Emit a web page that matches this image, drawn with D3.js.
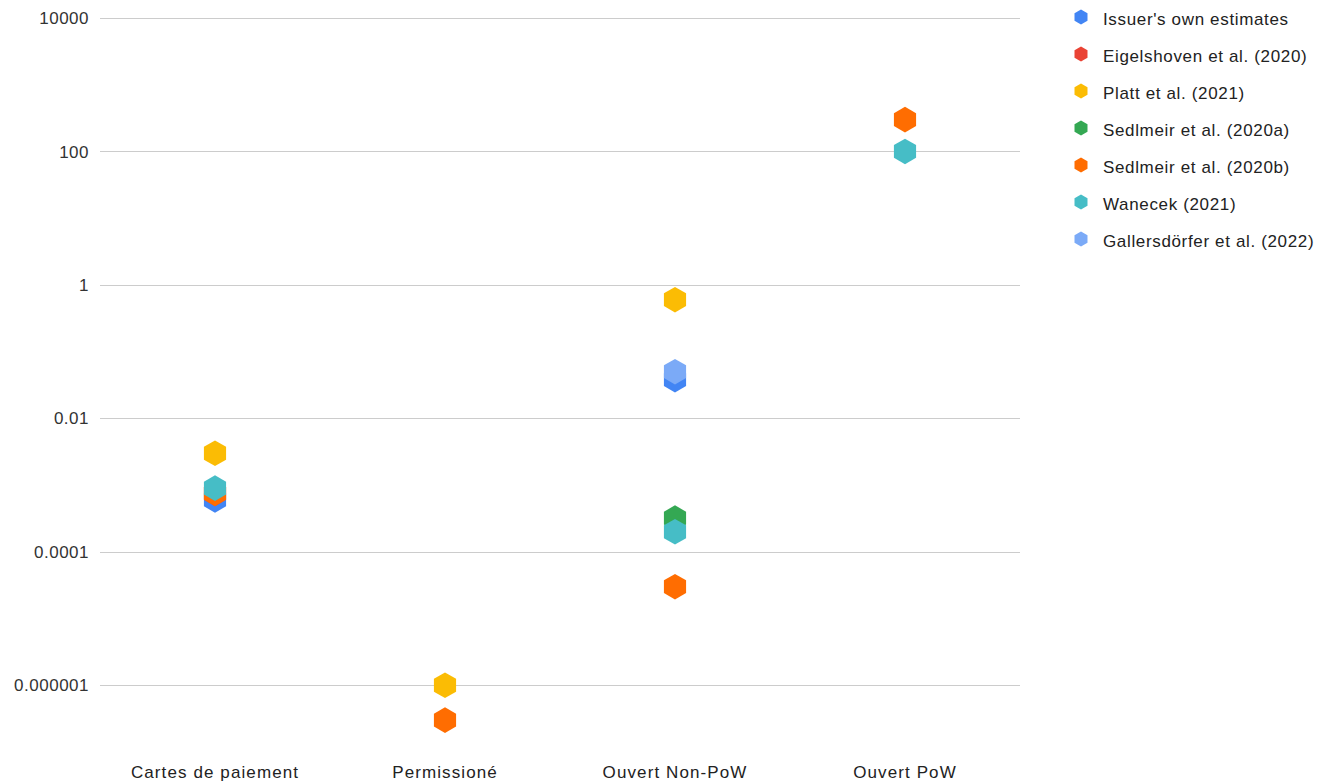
<!DOCTYPE html>
<html><head><meta charset="utf-8">
<script src="https://cdn.jsdelivr.net/npm/d3@7"></script>
<style>body{margin:0;background:#fff;font-family:"Liberation Sans",Arial,sans-serif}</style>
</head><body><svg id="c" width="1324" height="781"></svg>
<script>
const categories = ["Cartes de paiement","Permissioné","Ouvert Non-PoW","Ouvert PoW"];
const seriesNames = ["Issuer's own estimates","Eigelshoven et al. (2020)","Platt et al. (2021)","Sedlmeir et al. (2020a)","Sedlmeir et al. (2020b)","Wanecek (2021)","Gallersdörfer et al. (2022)"];
const seriesColors = ["#4285F4","#EA4335","#FBBC04","#34A853","#FF6D01","#46BDC6","#7BAAF7"];
// values per series, aligned with categories (null = no point)
const issuer      = [0.0006, null, 0.038, null];
const eigelshoven = [0.00075, null, null, null];
const platt       = [0.003, 0.000001, 0.6, null];
const sedlmeirA   = [null, null, 0.00032, null];
const sedlmeirB   = [0.00075, 0.0000003, 0.00003, 300];
const wanecek     = [0.0009, null, 0.0002, 100];
const gallers     = [null, null, 0.05, null];
const tickValues = [0.000001, 0.0001, 0.01, 1, 100, 10000];
const tickLabels = ["0.000001","0.0001","0.01","1","100","10000"];
const seriesValues = [issuer, eigelshoven, platt, sedlmeirA, sedlmeirB, wanecek, gallers];

const FONT = '"Liberation Sans",Arial,sans-serif';
const svg = d3.select("#c");
const L = 100, R = 1020, T = 18, B = 752;
const x = d3.scaleBand().domain(categories).range([L, R]);
const y = d3.scaleLog().domain([1e-7, 1e4]).range([B, T]);

// gridlines
svg.append("g").selectAll("line").data(tickValues).join("line")
  .attr("x1", L).attr("x2", R)
  .attr("y1", d => Math.round(y(d)) + 0.5).attr("y2", d => Math.round(y(d)) + 0.5)
  .attr("stroke", "#cccccc").attr("stroke-width", 1);

// y labels
svg.append("g").selectAll("text").data(tickValues).join("text")
  .attr("x", 89).attr("y", d => y(d)).attr("dy", "0.36em")
  .attr("text-anchor", "end").attr("font-size", 17).attr("font-family", FONT)
  .attr("letter-spacing", "0.5px").attr("fill", "#333")
  .text((d, i) => tickLabels[i]);

// x labels via axis
const xAxis = svg.append("g").attr("transform", `translate(0,${B})`)
  .call(d3.axisBottom(x).tickSize(0).tickPadding(0));
xAxis.select(".domain").remove();
xAxis.selectAll("text").attr("dy", null).attr("y", 26)
  .attr("font-size", 17).attr("fill", "#222").attr("font-family", FONT)
  .attr("letter-spacing", "1.1px");

function hex(r) {
  const pts = d3.range(6).map(i => {
    const a = Math.PI / 3 * i - Math.PI / 2;
    return [r * Math.cos(a), r * Math.sin(a)];
  });
  return "M" + pts.map(p => p.join(",")).join("L") + "Z";
}

// points
seriesValues.forEach((vals, si) => {
  const pts = vals.map((v, i) => ({v, c: categories[i]})).filter(d => d.v != null);
  svg.append("g").selectAll("path").data(pts).join("path")
    .attr("d", hex(12.8))
    .attr("transform", d => `translate(${x(d.c) + x.bandwidth() / 2},${y(d.v)})`)
    .attr("fill", seriesColors[si]);
});

// legend
const lg = svg.append("g").attr("transform", "translate(1081,17)");
seriesNames.forEach((n, i) => {
  const g = lg.append("g").attr("transform", `translate(0,${i * 37})`);
  g.append("path").attr("d", hex(7.5)).attr("fill", seriesColors[i]);
  g.append("text").attr("x", 22).attr("y", 7.5).attr("font-size", 17)
    .attr("font-family", FONT).attr("letter-spacing", "0.65px").attr("fill", "#222").text(n);
});
</script></body></html>
